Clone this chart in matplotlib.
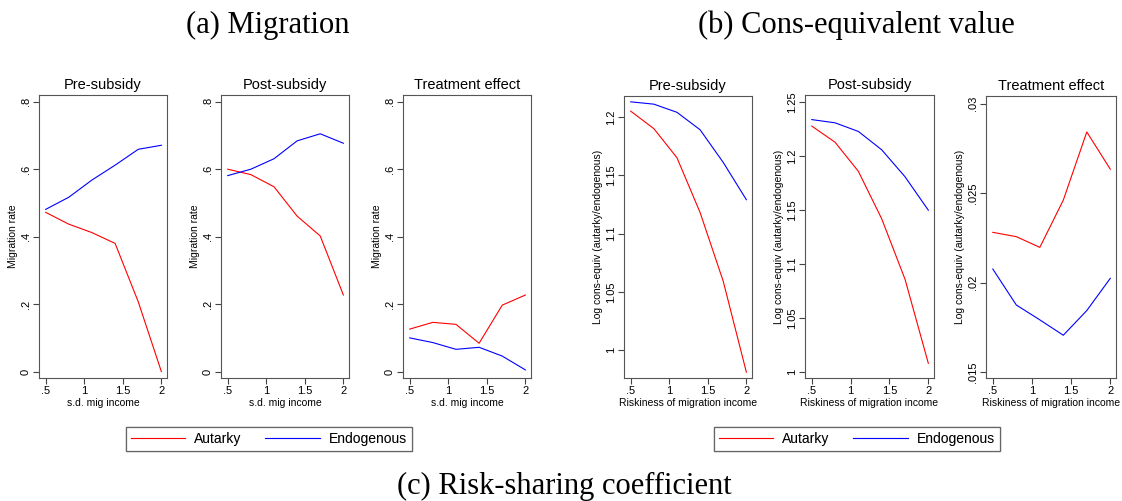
import matplotlib
matplotlib.use("Agg")
import matplotlib.pyplot as plt
from matplotlib.lines import Line2D

plt.rcParams['font.family'] = ['Liberation Sans', 'DejaVu Sans']

# ---------------- data ----------------
sd_mig = [0.5, 0.8, 1.1, 1.4, 1.7, 2.0]

mig_pre_autarky = [0.472, 0.437, 0.412, 0.380, 0.207, 0.000]
mig_pre_endog = [0.481, 0.517, 0.568, 0.612, 0.659, 0.671]
mig_post_autarky = [0.600, 0.584, 0.548, 0.461, 0.402, 0.227]
mig_post_endog = [0.581, 0.600, 0.631, 0.684, 0.705, 0.677]
mig_te_autarky = [0.126, 0.146, 0.140, 0.084, 0.197, 0.227]
mig_te_endog = [0.100, 0.086, 0.066, 0.072, 0.046, 0.005]

ce_pre_autarky = [1.205, 1.190, 1.165, 1.118, 1.059, 0.981]
ce_pre_endog = [1.213, 1.211, 1.204, 1.189, 1.161, 1.129]
ce_post_autarky = [1.228, 1.213, 1.186, 1.142, 1.086, 1.008]
ce_post_endog = [1.234, 1.231, 1.223, 1.206, 1.181, 1.150]
ce_te_autarky = [0.02281, 0.02257, 0.02197, 0.02461, 0.02842, 0.02634]
ce_te_endog = [0.02076, 0.01875, 0.01792, 0.01706, 0.01844, 0.02024]

x_ticks = [0.5, 1.0, 1.5, 2.0]
x_ticklabels = ['.5', '1', '1.5', '2']
mig_yticks = [0.0, 0.2, 0.4, 0.6, 0.8]
mig_yticklabels = ['0', '.2', '.4', '.6', '.8']
ce_pre_yticks = [1.0, 1.05, 1.1, 1.15, 1.2]
ce_pre_yticklabels = ['1', '1.05', '1.1', '1.15', '1.2']
ce_post_yticks = [1.0, 1.05, 1.1, 1.15, 1.2, 1.25]
ce_post_yticklabels = ['1', '1.05', '1.1', '1.15', '1.2', '1.25']
ce_te_yticks = [0.015, 0.02, 0.025, 0.03]
ce_te_yticklabels = ['.015', '.02', '.025', '.03']

panel_titles = ['Pre-subsidy', 'Post-subsidy', 'Treatment effect']
series_names = ['Autarky', 'Endogenous']
series_colors = ['#ff0000', '#0000ff']

# ---------------- figure ----------------
W, H = 1122, 501
fig = plt.figure(figsize=(W / 100, H / 100), dpi=100)


def px_axes(l, r, t, b):
    return fig.add_axes([l / W, 1 - b / H, (r - l) / W, (b - t) / H])


def style(ax, title, ylabel, xlabel, yticks, yticklabels, ylim):
    ax.set_xlim(0.413, 2.073)
    ax.set_ylim(*ylim)
    ax.set_xticks(x_ticks)
    ax.set_xticklabels(x_ticklabels)
    ax.set_yticks(yticks)
    ax.set_yticklabels(yticklabels)
    ax.tick_params(axis='both', labelsize=8, length=4, width=0.8,
                   color='#444444', pad=2)
    ax.tick_params(axis='y', labelrotation=90)
    for lab in ax.get_yticklabels():
        lab.set_va('center')
    for s in ax.spines.values():
        s.set_color('#555555')
        s.set_linewidth(0.8)
    ax.set_title(title, fontsize=10.5, pad=4)
    ax.set_xlabel(xlabel, fontsize=7.5, labelpad=1)
    ax.set_ylabel(ylabel, fontsize=7.5, labelpad=2)


mig_rects = [(39, 167, 95, 378), (221, 349, 95, 378), (403, 531, 95, 378)]
mig_data = [(mig_pre_autarky, mig_pre_endog),
            (mig_post_autarky, mig_post_endog),
            (mig_te_autarky, mig_te_endog)]
for rect, title, (a, e) in zip(mig_rects, panel_titles, mig_data):
    ax = px_axes(*rect)
    ax.plot(sd_mig, a, color=series_colors[0], lw=0.8)
    ax.plot(sd_mig, e, color=series_colors[1], lw=0.8)
    style(ax, title, 'Migration rate', 's.d. mig income',
          mig_yticks, mig_yticklabels, (-0.019, 0.82))

ce_rects = [(624, 752, 96, 378), (805, 934, 95, 378), (986, 1116, 96, 378)]
ce_data = [(ce_pre_autarky, ce_pre_endog),
           (ce_post_autarky, ce_post_endog),
           (ce_te_autarky, ce_te_endog)]
ce_ticks = [(ce_pre_yticks, ce_pre_yticklabels, (0.976, 1.218)),
            (ce_post_yticks, ce_post_yticklabels, (0.9944, 1.2568)),
            (ce_te_yticks, ce_te_yticklabels, (0.01467, 0.03043))]
for rect, title, (a, e), (yt, ytl, yl) in zip(ce_rects, panel_titles, ce_data, ce_ticks):
    ax = px_axes(*rect)
    ax.plot(sd_mig, a, color=series_colors[0], lw=0.8)
    ax.plot(sd_mig, e, color=series_colors[1], lw=0.8)
    style(ax, title, 'Log cons-equiv (autarky/endogenous)',
          'Riskiness of migration income', yt, ytl, yl)

handles = [Line2D([], [], color=c, lw=0.8) for c in series_colors]
for cx in (269, 857):
    leg = fig.legend(handles, series_names, loc='center',
                     bbox_to_anchor=(cx / W, 1 - 439 / H), ncol=2,
                     fontsize=10, frameon=True, fancybox=False,
                     handlelength=3.9, handletextpad=0.7, columnspacing=1.7,
                     borderpad=0.35)
    leg.get_frame().set_edgecolor('#555555')
    leg.get_frame().set_linewidth(0.9)
    fig.add_artist(leg)

serif = ['Liberation Serif', 'DejaVu Serif']
fig.text(268 / W, 1 - 33 / H, '(a) Migration', family=serif, fontsize=22,
         ha='center', va='baseline')
fig.text(856 / W, 1 - 33 / H, '(b) Cons-equivalent value', family=serif,
         fontsize=22, ha='center', va='baseline')
fig.text(564 / W, 1 - 494 / H, '(c) Risk-sharing coefficient', family=serif,
         fontsize=22, ha='center', va='baseline')

fig.savefig('out.png', dpi=100)
